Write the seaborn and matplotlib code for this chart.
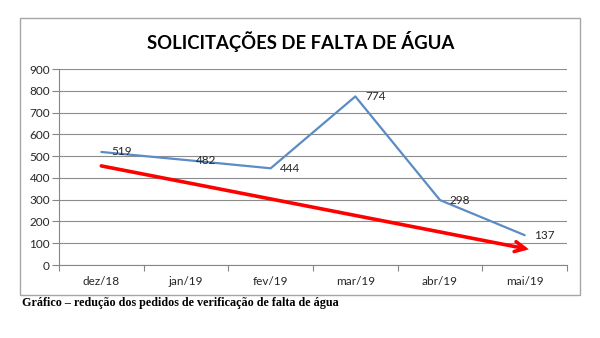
import matplotlib
matplotlib.use("Agg")
import matplotlib.pyplot as plt
import seaborn as sns
import pandas as pd
from matplotlib.patches import Rectangle

months = ["dez/18", "jan/19", "fev/19", "mar/19", "abr/19", "mai/19"]
requests = [519, 482, 444, 774, 298, 137]
trend_pos = [0, 5.05]
trend_values = [455, 72]
yticks = [0, 100, 200, 300, 400, 500, 600, 700, 800, 900]
title = "SOLICITAÇÕES DE FALTA DE ÁGUA"
caption = "Gráfico – redução dos pedidos de verificação de falta de água"

sns.set_theme(style="white")
plt.rcParams["font.family"] = ["Lato", "DejaVu Sans"]

df = pd.DataFrame({"month": months, "value": requests})
df["pos"] = range(len(months))

fig = plt.figure(figsize=(6, 3.38), dpi=100)
fig.patch.set_facecolor("white")
ax = fig.add_axes([59/600, 1-265/338, (567-59)/600, (265-69)/338])

# chart border
fig.patches.append(Rectangle((20/600, 1-295/338), 560/600, (295-18)/338,
                             transform=fig.transFigure, fill=False,
                             edgecolor="#a6a6a6", linewidth=1.0))

sns.lineplot(data=df, x="pos", y="value", ax=ax, color="#5b8cc4",
             linewidth=1.6, marker=None)

for p, v in zip(df["pos"], df["value"]):
    ax.annotate(str(v), (p, v), xytext=(7, 0), textcoords="offset points",
                ha="left", va="center", fontsize=8.5, color="#262626")

ax.annotate("", xy=(trend_pos[1], trend_values[1]),
            xytext=(trend_pos[0], trend_values[0]),
            arrowprops=dict(arrowstyle="->,head_length=0.6,head_width=0.3",
                            color="#ff0000", linewidth=2.6,
                            shrinkA=0, shrinkB=0, joinstyle="miter"))

ax.set_xlim(-0.5, len(months) - 0.5)
ax.set_ylim(0, 900)
ax.set_yticks(yticks)
ax.set_yticklabels([str(t) for t in yticks], fontsize=8.5, color="#262626")
ax.set_xticks(range(len(months)))
ax.set_xticklabels(months, fontsize=8.5, color="#262626")
ax.set_xticks([i - 0.5 for i in range(len(months) + 1)], minor=True)
ax.tick_params(axis="x", which="major", length=0, pad=8)
ax.tick_params(axis="x", which="minor", length=4, width=0.8, color="#868686", direction="out", bottom=True)
ax.tick_params(axis="y", length=5, width=0.8, color="#868686", direction="out", left=True, pad=1.5)
ax.grid(axis="y", color="#8c8c8c", linewidth=0.8)
ax.set_axisbelow(True)
for s in ["top", "right"]:
    ax.spines[s].set_visible(False)
for s in ["left", "bottom"]:
    ax.spines[s].set_color("#868686")
    ax.spines[s].set_linewidth(0.8)
ax.set_xlabel("")
ax.set_ylabel("")

fig.text(301/600, 1-42/338, title, ha="center", va="center",
         fontsize=13.3, fontweight="bold", color="black")
fig.text(22/600, 1-303/338, caption, ha="left", va="center",
         fontsize=8.7, fontweight="bold", family=["Liberation Serif", "DejaVu Serif"],
         color="black")

fig.savefig("out.png", dpi=100, facecolor="white")
